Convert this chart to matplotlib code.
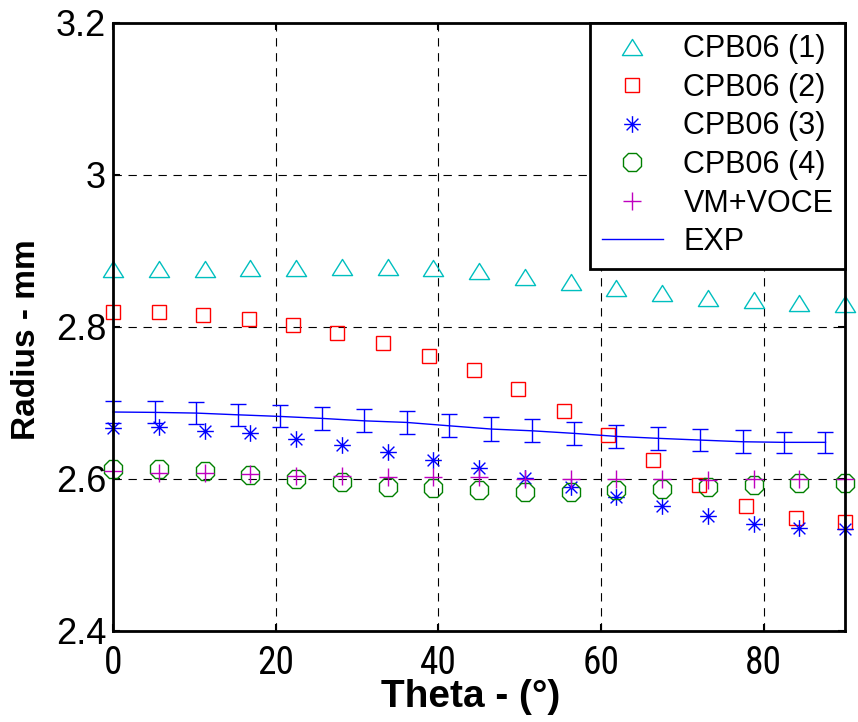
import matplotlib
matplotlib.use("Agg")
import matplotlib.pyplot as plt
from matplotlib.path import Path
from matplotlib.lines import Line2D
from matplotlib.ticker import FuncFormatter
from matplotlib import font_manager as fm

# ---------------- data ----------------
theta_model = [0, 5.625, 11.25, 16.875, 22.5, 28.125, 33.75, 39.375, 45,
               50.625, 56.25, 61.875, 67.5, 73.125, 78.75, 84.375, 90]
theta_cpb2 = [0, 5.6, 11.1, 16.7, 22.1, 27.6, 33.2, 38.8, 44.4,
              49.8, 55.4, 60.9, 66.4, 72.0, 77.8, 84.0, 90]
r_cpb1 = [2.876, 2.876, 2.876, 2.877, 2.877, 2.879, 2.879, 2.877, 2.874,
          2.866, 2.859, 2.851, 2.844, 2.838, 2.835, 2.831, 2.830]
r_cpb2 = [2.819, 2.819, 2.816, 2.810, 2.803, 2.792, 2.779, 2.762, 2.743,
          2.718, 2.689, 2.658, 2.625, 2.592, 2.565, 2.548, 2.543]
r_cpb3 = [2.667, 2.668, 2.663, 2.660, 2.652, 2.645, 2.636, 2.625, 2.614,
          2.601, 2.589, 2.576, 2.564, 2.551, 2.541, 2.536, 2.534]
r_cpb4 = [2.613, 2.613, 2.611, 2.605, 2.600, 2.596, 2.590, 2.588, 2.586,
          2.583, 2.583, 2.586, 2.587, 2.589, 2.592, 2.594, 2.594]
r_vm = [2.610, 2.608, 2.608, 2.606, 2.604, 2.604, 2.603, 2.603, 2.602,
        2.600, 2.600, 2.600, 2.600, 2.599, 2.600, 2.600, 2.600]
theta_exp = [0, 5.17, 10.2, 15.4, 20.5, 25.7, 30.9, 36.1, 41.3,
             46.5, 51.5, 56.7, 61.8, 67.0, 72.2, 77.4, 82.5, 87.6]
r_exp = [2.688, 2.6875, 2.6866, 2.6843, 2.6822, 2.6796, 2.6764, 2.6743, 2.6699,
         2.6656, 2.6633, 2.6599, 2.6560, 2.6534, 2.6511, 2.6489, 2.6481, 2.6481]
err_exp = [0.0145, 0.0145, 0.0145, 0.0145, 0.0145, 0.015, 0.015, 0.015, 0.015,
           0.016, 0.015, 0.015, 0.015, 0.015, 0.015, 0.015, 0.014, 0.014]
labels = ["CPB06 (1)", "CPB06 (2)", "CPB06 (3)", "CPB06 (4)", "VM+VOCE", "EXP"]
xticks = [0, 20, 40, 60, 80]
yticks = [2.4, 2.6, 2.8, 3.0, 3.2]

# ---------------- fonts ----------------
REG = "Liberation Sans"


def find_condensed():
    prefs = ["Liberation Sans Narrow", "Arial Narrow", "Roboto Condensed",
             "Open Sans Condensed", "Noto Sans", "DejaVu Sans", "Roboto", "Open Sans"]
    entries = [f for f in fm.fontManager.ttflist
               if str(f.stretch) in ("condensed", "semi-condensed", "extra-condensed")
               or "Narrow" in f.name or "Condensed" in f.name]
    for p in prefs:
        for f in entries:
            if f.name == p and f.style == "normal" and f.weight in (400, "normal", "regular"):
                return fm.FontProperties(fname=f.fname)
    return None


cond = find_condensed()
xtick_fp = cond if cond is not None else fm.FontProperties(family=REG)
xtick_size = 27 if cond is not None else 24

# ---------------- markers ----------------
tri = Path([(0, 0.8), (-1, -0.8), (1, -0.8), (0, 0.8)],
           [Path.MOVETO, Path.LINETO, Path.LINETO, Path.CLOSEPOLY])
d = 0.707
ast = Path([(-1, 0), (1, 0), (0, -1), (0, 1), (-d, -d), (d, d), (-d, d), (d, -d)],
           [Path.MOVETO, Path.LINETO] * 4)

c_cyan = "#00BFBF"
c_red = "#FF0000"
c_blue = "#0000FF"
c_green = "#008000"
c_mag = "#BF00BF"

fig = plt.figure(figsize=(8.58, 7.22), dpi=100)
W, H = 858, 722
L, R, T, B = 113, 845, 22.7, 631
ax = fig.add_axes([L / W, 1 - B / H, (R - L) / W, (B - T) / H])

ax.grid(True, color="black", linestyle=(0, (7.5, 6)), linewidth=0.8, zorder=0)
ax.set_axisbelow(True)

kw = dict(linestyle="none", markerfacecolor="none", markeredgewidth=1.0, clip_on=False)
h1, = ax.plot(theta_model, r_cpb1, marker=tri, markersize=14.5, color=c_cyan, **kw)
h2, = ax.plot(theta_cpb2, r_cpb2, marker="s", markersize=10, color=c_red, **kw)
h3, = ax.plot(theta_model, r_cpb3, marker=ast, markersize=12, color=c_blue, **kw)
h4, = ax.plot(theta_model, r_cpb4, marker="8", markersize=14, color=c_green, **kw)
h5, = ax.plot(theta_model, r_vm, marker="+", markersize=13, color=c_mag, **kw)
ax.errorbar(theta_exp, r_exp, yerr=err_exp, color=c_blue, linewidth=1.0,
            elinewidth=1.0, capsize=6, capthick=1.0, clip_on=False)
h6 = Line2D([], [], color=c_blue, linewidth=1.0)

ax.set_xlim(0, 90)
ax.set_ylim(2.4, 3.2)
ax.set_xticks(xticks)
ax.set_yticks(yticks)
ax.yaxis.set_major_formatter(FuncFormatter(lambda v, p: "%g" % v))
ax.tick_params(direction="in", length=5, width=1.5, top=True, right=True,
               labeltop=False, labelright=False)
ax.tick_params(axis="y", pad=5)
ax.tick_params(axis="x", pad=10)
for lab in ax.get_yticklabels():
    lab.set_fontfamily(REG)
    lab.set_fontsize(26)
for lab in ax.get_xticklabels():
    lab.set_fontproperties(xtick_fp)
    lab.set_fontsize(xtick_size)
for s in ax.spines.values():
    s.set_linewidth(2)

ax.set_ylabel("Radius - mm", fontfamily=REG, fontweight="bold", fontsize=24, va="center")
ax.yaxis.set_label_coords((26 - L) / (R - L), (B - 340) / (B - T))
ax.set_xlabel("Theta - (°)", fontfamily=REG, fontweight="bold", fontsize=28, va="center")
ax.xaxis.set_label_coords((471 - L) / (R - L), (B - 697) / (B - T))

leg = ax.legend([h1, h2, h3, h4, h5, h6], labels, loc="upper right",
                borderaxespad=0, prop={"family": REG, "size": 22},
                frameon=True, fancybox=False, edgecolor="black", framealpha=1,
                handlelength=2.0, handletextpad=0.68, labelspacing=0.28,
                borderpad=0.38, markerscale=1.0)
leg.get_frame().set_linewidth(2)

fig.savefig("out.png", dpi=100)
